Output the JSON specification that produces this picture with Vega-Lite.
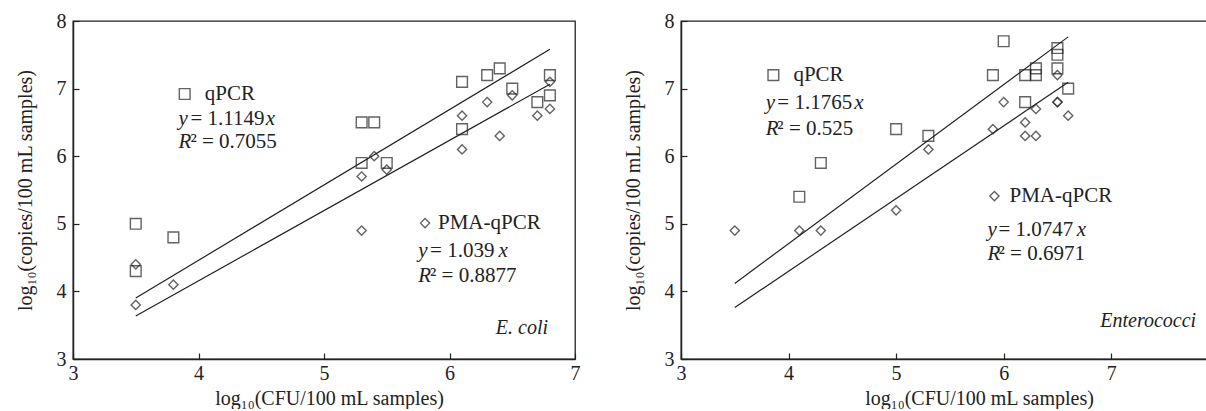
{
  "$schema": "https://vega.github.io/schema/vega-lite/v6.json",
  "background": "white",
  "padding": {"left": 14, "top": 10, "right": 0, "bottom": 0},
  "config": {
    "font": "Liberation Serif, Times New Roman, DejaVu Serif, serif",
    "view": {"stroke": "#222", "strokeWidth": 1.3},
    "concat": {"spacing": 41},
    "axis": {
      "grid": false,
      "domainColor": "#222",
      "domainWidth": 1.5,
      "tickColor": "#222",
      "tickWidth": 1.2,
      "tickSize": -6,
      "labelPadding": 13,
      "labelFont": "Liberation Serif, Times New Roman, DejaVu Serif, serif",
      "labelFontSize": 20,
      "labelColor": "#222",
      "labelFlush": false,
      "titleFont": "Liberation Serif, Times New Roman, DejaVu Serif, serif",
      "titleFontSize": 20,
      "titleFontWeight": "normal",
      "titleColor": "#222"
    },
    "axisY": {"titlePadding": 21},
    "axisX": {"titlePadding": 5, "labelPadding": 10}
  },
  "datasets": {
    "ecoli": [
      {"method": "qPCR", "x": 3.5, "y": 5.0}, {"method": "qPCR", "x": 3.5, "y": 4.3}, {"method": "qPCR", "x": 3.8, "y": 4.8},
      {"method": "qPCR", "x": 5.3, "y": 6.5}, {"method": "qPCR", "x": 5.4, "y": 6.5}, {"method": "qPCR", "x": 5.3, "y": 5.9},
      {"method": "qPCR", "x": 5.5, "y": 5.9}, {"method": "qPCR", "x": 6.1, "y": 7.1}, {"method": "qPCR", "x": 6.1, "y": 6.4},
      {"method": "qPCR", "x": 6.3, "y": 7.2}, {"method": "qPCR", "x": 6.4, "y": 7.3}, {"method": "qPCR", "x": 6.5, "y": 7.0},
      {"method": "qPCR", "x": 6.7, "y": 6.8}, {"method": "qPCR", "x": 6.8, "y": 7.2}, {"method": "qPCR", "x": 6.8, "y": 6.9},
      {"method": "PMA-qPCR", "x": 3.5, "y": 4.4}, {"method": "PMA-qPCR", "x": 3.5, "y": 3.8}, {"method": "PMA-qPCR", "x": 3.8, "y": 4.1},
      {"method": "PMA-qPCR", "x": 5.4, "y": 6.0}, {"method": "PMA-qPCR", "x": 5.3, "y": 5.7}, {"method": "PMA-qPCR", "x": 5.5, "y": 5.8},
      {"method": "PMA-qPCR", "x": 5.3, "y": 4.9}, {"method": "PMA-qPCR", "x": 6.1, "y": 6.6}, {"method": "PMA-qPCR", "x": 6.1, "y": 6.1},
      {"method": "PMA-qPCR", "x": 6.3, "y": 6.8}, {"method": "PMA-qPCR", "x": 6.4, "y": 6.3}, {"method": "PMA-qPCR", "x": 6.5, "y": 6.9},
      {"method": "PMA-qPCR", "x": 6.7, "y": 6.6}, {"method": "PMA-qPCR", "x": 6.8, "y": 7.1}, {"method": "PMA-qPCR", "x": 6.8, "y": 6.7}
    ],
    "ecoliLines": [
      {"method": "qPCR", "x": 3.5, "y": 3.902}, {"method": "qPCR", "x": 6.8, "y": 7.581},
      {"method": "PMA-qPCR", "x": 3.5, "y": 3.637}, {"method": "PMA-qPCR", "x": 6.8, "y": 7.065}
    ],
    "ecoliKeys": [
      {"method": "qPCR", "x": 3.89, "y": 6.92}, {"method": "PMA-qPCR", "x": 5.805, "y": 5.01}
    ],
    "ecoliNotes": [
      {"x": 4.05, "y": 6.92, "text": "qPCR", "style": "normal"},
      {"x": 3.84, "y": 6.55, "text": "y", "style": "italic"},
      {"x": 3.936, "y": 6.55, "text": "= 1.1149", "style": "normal"},
      {"x": 4.535, "y": 6.55, "text": "x", "style": "italic"},
      {"x": 3.84, "y": 6.21, "text": "R", "style": "italic"},
      {"x": 3.936, "y": 6.21, "text": "² = 0.7055", "style": "normal"},
      {"x": 5.908, "y": 5.01, "text": "PMA-qPCR", "style": "normal"},
      {"x": 5.751, "y": 4.60, "text": "y", "style": "italic"},
      {"x": 5.845, "y": 4.60, "text": "= 1.039", "style": "normal"},
      {"x": 6.39, "y": 4.60, "text": "x", "style": "italic"},
      {"x": 5.751, "y": 4.23, "text": "R", "style": "italic"},
      {"x": 5.845, "y": 4.23, "text": "² = 0.8877", "style": "normal"},
      {"x": 6.785, "y": 3.46, "text": "E. coli", "style": "species"}
    ],
    "entero": [
      {"method": "qPCR", "x": 4.1, "y": 5.4}, {"method": "qPCR", "x": 4.3, "y": 5.9}, {"method": "qPCR", "x": 5.0, "y": 6.4},
      {"method": "qPCR", "x": 5.3, "y": 6.3}, {"method": "qPCR", "x": 5.9, "y": 7.2}, {"method": "qPCR", "x": 6.0, "y": 7.7},
      {"method": "qPCR", "x": 6.2, "y": 7.2}, {"method": "qPCR", "x": 6.2, "y": 6.8}, {"method": "qPCR", "x": 6.3, "y": 7.3},
      {"method": "qPCR", "x": 6.3, "y": 7.2}, {"method": "qPCR", "x": 6.5, "y": 7.6}, {"method": "qPCR", "x": 6.5, "y": 7.5},
      {"method": "qPCR", "x": 6.5, "y": 7.3}, {"method": "qPCR", "x": 6.6, "y": 7.0},
      {"method": "PMA-qPCR", "x": 3.5, "y": 4.9}, {"method": "PMA-qPCR", "x": 4.1, "y": 4.9}, {"method": "PMA-qPCR", "x": 4.3, "y": 4.9},
      {"method": "PMA-qPCR", "x": 5.0, "y": 5.2}, {"method": "PMA-qPCR", "x": 5.3, "y": 6.1}, {"method": "PMA-qPCR", "x": 5.9, "y": 6.4},
      {"method": "PMA-qPCR", "x": 6.0, "y": 6.8}, {"method": "PMA-qPCR", "x": 6.2, "y": 6.5}, {"method": "PMA-qPCR", "x": 6.2, "y": 6.3},
      {"method": "PMA-qPCR", "x": 6.3, "y": 6.3}, {"method": "PMA-qPCR", "x": 6.3, "y": 6.7}, {"method": "PMA-qPCR", "x": 6.5, "y": 7.2},
      {"method": "PMA-qPCR", "x": 6.5, "y": 6.8}, {"method": "PMA-qPCR", "x": 6.5, "y": 6.8}, {"method": "PMA-qPCR", "x": 6.6, "y": 6.6}
    ],
    "enteroLines": [
      {"method": "qPCR", "x": 3.5, "y": 4.118}, {"method": "qPCR", "x": 6.6, "y": 7.765},
      {"method": "PMA-qPCR", "x": 3.5, "y": 3.761}, {"method": "PMA-qPCR", "x": 6.6, "y": 7.093}
    ],
    "enteroKeys": [
      {"method": "qPCR", "x": 3.859, "y": 7.20}, {"method": "PMA-qPCR", "x": 5.914, "y": 5.41}
    ],
    "enteroNotes": [
      {"x": 4.045, "y": 7.20, "text": "qPCR", "style": "normal"},
      {"x": 3.788, "y": 6.79, "text": "y", "style": "italic"},
      {"x": 3.896, "y": 6.79, "text": "= 1.1765", "style": "normal"},
      {"x": 4.61, "y": 6.79, "text": "x", "style": "italic"},
      {"x": 3.788, "y": 6.40, "text": "R", "style": "italic"},
      {"x": 3.896, "y": 6.40, "text": "² = 0.525", "style": "normal"},
      {"x": 6.054, "y": 5.41, "text": "PMA-qPCR", "style": "normal"},
      {"x": 5.849, "y": 4.91, "text": "y", "style": "italic"},
      {"x": 5.952, "y": 4.91, "text": "= 1.0747", "style": "normal"},
      {"x": 6.68, "y": 4.91, "text": "x", "style": "italic"},
      {"x": 5.849, "y": 4.55, "text": "R", "style": "italic"},
      {"x": 5.952, "y": 4.55, "text": "² = 0.6971", "style": "normal"},
      {"x": 7.79, "y": 3.56, "text": "Enterococci", "style": "species"}
    ]
  },
  "hconcat": [
    {
      "width": 502,
      "height": 338,
      "encoding": {
        "x": {"field": "x", "type": "quantitative", "scale": {"domain": [3, 7], "nice": false},
              "axis": {"values": [3, 4, 5, 6, 7], "format": "d", "title": "log₁₀(CFU/100 mL samples)", "titleX": 256}},
        "y": {"field": "y", "type": "quantitative", "scale": {"domain": [3, 8], "nice": false},
              "axis": {"values": [3, 4, 5, 6, 7, 8], "format": "d", "title": "log₁₀(copies/100 mL samples)"}}
      },
      "layer": [
        {"data": {"name": "ecoliLines"}, "mark": {"type": "line", "color": "#222", "strokeWidth": 1.2},
         "encoding": {"detail": {"field": "method"}}},
        {"data": {"name": "ecoli"}, "mark": {"type": "point", "filled": false, "color": "#222", "strokeWidth": 1.4},
         "encoding": {
           "shape": {"field": "method", "scale": {"domain": ["qPCR", "PMA-qPCR"], "range": ["square", "diamond"]}, "legend": null},
           "size": {"field": "method", "scale": {"domain": ["qPCR", "PMA-qPCR"], "range": [115, 85]}, "legend": null}}},
        {"data": {"name": "ecoliKeys"}, "mark": {"type": "point", "filled": false, "color": "#222", "strokeWidth": 1.4},
         "encoding": {
           "shape": {"field": "method", "legend": null},
           "size": {"field": "method", "legend": null}}},
        {"data": {"name": "ecoliNotes"}, "transform": [{"filter": "datum.style === 'normal'"}],
         "mark": {"type": "text", "align": "left", "baseline": "middle", "fontSize": 21, "color": "#222"},
         "encoding": {"text": {"field": "text"}}},
        {"data": {"name": "ecoliNotes"}, "transform": [{"filter": "datum.style === 'italic'"}],
         "mark": {"type": "text", "align": "left", "baseline": "middle", "fontSize": 21, "fontStyle": "italic", "color": "#222"},
         "encoding": {"text": {"field": "text"}}},
        {"data": {"name": "ecoliNotes"}, "transform": [{"filter": "datum.style === 'species'"}],
         "mark": {"type": "text", "align": "right", "baseline": "middle", "fontSize": 20, "fontStyle": "italic", "color": "#222"},
         "encoding": {"text": {"field": "text"}}}
      ]
    },
    {
      "width": 527,
      "height": 338,
      "encoding": {
        "x": {"field": "x", "type": "quantitative", "scale": {"domain": [3, 7.9], "nice": false},
              "axis": {"values": [3, 4, 5, 6, 7], "format": "d", "title": "log₁₀(CFU/100 mL samples)", "titleX": 298}},
        "y": {"field": "y", "type": "quantitative", "scale": {"domain": [3, 8], "nice": false},
              "axis": {"values": [3, 4, 5, 6, 7, 8], "format": "d", "title": "log₁₀(copies/100 mL samples)"}}
      },
      "layer": [
        {"data": {"name": "enteroLines"}, "mark": {"type": "line", "color": "#222", "strokeWidth": 1.2},
         "encoding": {"detail": {"field": "method"}}},
        {"data": {"name": "entero"}, "mark": {"type": "point", "filled": false, "color": "#222", "strokeWidth": 1.4},
         "encoding": {
           "shape": {"field": "method", "scale": {"domain": ["qPCR", "PMA-qPCR"], "range": ["square", "diamond"]}, "legend": null},
           "size": {"field": "method", "scale": {"domain": ["qPCR", "PMA-qPCR"], "range": [115, 85]}, "legend": null}}},
        {"data": {"name": "enteroKeys"}, "mark": {"type": "point", "filled": false, "color": "#222", "strokeWidth": 1.4},
         "encoding": {
           "shape": {"field": "method", "legend": null},
           "size": {"field": "method", "legend": null}}},
        {"data": {"name": "enteroNotes"}, "transform": [{"filter": "datum.style === 'normal'"}],
         "mark": {"type": "text", "align": "left", "baseline": "middle", "fontSize": 21, "color": "#222"},
         "encoding": {"text": {"field": "text"}}},
        {"data": {"name": "enteroNotes"}, "transform": [{"filter": "datum.style === 'italic'"}],
         "mark": {"type": "text", "align": "left", "baseline": "middle", "fontSize": 21, "fontStyle": "italic", "color": "#222"},
         "encoding": {"text": {"field": "text"}}},
        {"data": {"name": "enteroNotes"}, "transform": [{"filter": "datum.style === 'species'"}],
         "mark": {"type": "text", "align": "right", "baseline": "middle", "fontSize": 20, "fontStyle": "italic", "color": "#222"},
         "encoding": {"text": {"field": "text"}}}
      ]
    }
  ]
}
